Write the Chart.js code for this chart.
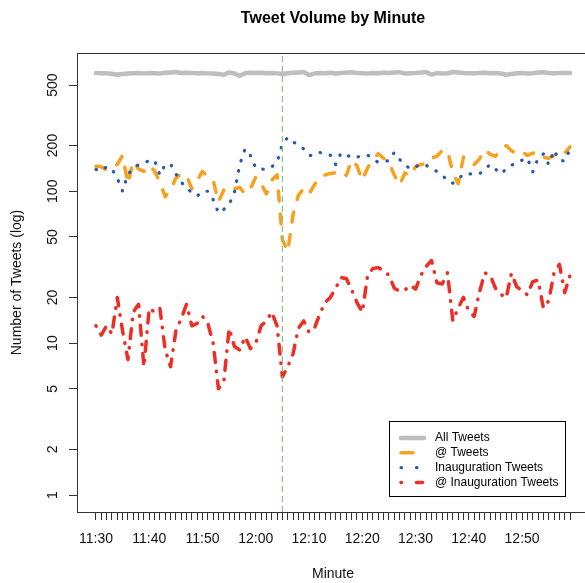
<!DOCTYPE html>
<html>
<head>
<meta charset="utf-8">
<script src="https://cdn.jsdelivr.net/npm/chart.js@4"></script>
<style>
html, body { margin: 0; padding: 0; overflow: hidden; background: #fff; }
</style>
</head>
<body>
<canvas id="myChart" width="592" height="583"></canvas>
<script>
// minutes run from 11:30 (index 0) to 12:59 (index 89)
var tickLabels = ["11:30", "11:40", "11:50", "12:00", "12:10", "12:20", "12:30", "12:40", "12:50"];
var yTicks = [1, 2, 5, 10, 20, 50, 100, 200, 500];
var inaugMinute = 35;
var seriesNames = ["All Tweets", "@ Tweets", "Inauguration Tweets", "@ Inauguration Tweets"];

var allTweets = [600, 598, 597, 594, 585, 592, 596, 598, 600, 597,
  600, 598, 596, 602, 606, 610, 600, 602, 600, 598,
  600, 597, 595, 592, 585, 606, 596, 575, 598, 603,
  600, 602, 598, 600, 597, 592, 598, 602, 606, 610,
  582, 595, 600, 598, 602, 596, 600, 605, 608, 600,
  598, 596, 600, 598, 602, 600, 605, 608, 595, 598,
  600, 604, 610, 586, 600, 596, 598, 610, 605, 600,
  598, 597, 600, 602, 598, 600, 596, 585, 592, 598,
  600, 596, 598, 604, 608, 600, 598, 600, 601, 600];

var atTweets = [146, 145, 138, 145, 150, 172, 112, 158, 140, 135,
  148, 136, 115, 92, 102, 122, 130, 127, 104, 118,
  135, 125, 118, 85, 102, 108, 104, 106, 96, 104,
  124, 112, 96, 118, 128, 48, 40, 70, 94, 104,
  96, 110, 124, 128, 131, 132, 136, 127, 160, 147,
  118, 143, 160, 177, 165, 155, 128, 110, 132, 126,
  145, 150, 152, 165, 170, 185, 185, 132, 112, 168,
  160, 150, 163, 188, 175, 170, 187, 200, 185, 176,
  182, 172, 178, 180, 167, 165, 172, 180, 178, 196];

var inaugTweets = [139, 136, 145, 140, 122, 100, 130, 140, 150, 155,
  158, 160, 128, 150, 151, 130, 115, 105, 98, 93,
  100, 100, 88, 72, 76, 82, 98, 150, 190, 172,
  142, 140, 139, 145, 155, 205, 226, 212, 200, 190,
  172, 172, 180, 176, 173, 150, 178, 175, 165, 168,
  170, 173, 162, 155, 157, 159, 180, 162, 150, 140,
  145, 150, 148, 141, 135, 128, 117, 113, 120, 130,
  130, 130, 130, 140, 150, 140, 130, 140, 148, 156,
  160, 165, 134, 165, 176, 150, 186, 160, 158, 190];

var atInaugTweets = [13, 11.3, 13, 11.5, 20, 12, 7.8, 16, 18, 7,
  17, 16, 17, 9, 7, 12, 14.5, 18, 13, 13.5,
  15, 13.5, 10, 5, 5.6, 12.5, 9.5, 9, 11, 9.2,
  10, 13, 14, 16, 13, 6, 7, 8.5, 12.5, 14,
  11.8, 12.5, 15.5, 18.5, 20, 23, 27, 26.6, 22.5, 18.5,
  16, 28, 31, 31.4, 30, 28, 23, 22, 22.4, 24,
  22.7, 28, 32, 35, 25, 24.5, 29, 14, 17, 20,
  16.2, 15, 21.7, 29, 28, 23, 21, 19.8, 28.8, 23.5,
  22, 20.8, 25.4, 26, 17, 19, 29, 33, 21.5, 28];

var colors = ["#bebebe", "#f7a11e", "#2b58a8", "#ee2e24"];
var widths = [4.5, 3.5, 3.2, 3.5];
var dashes = [[], [10, 13], [0.5, 10], [0.5, 9, 10, 9]];
var legendDashes = [[], [12, 100], [0.5, 15], [0.5, 15, 6, 100]];

function toPoints(arr) {
  return arr.map(function (v, i) { return { x: i, y: v }; });
}

var fontFam = '"Liberation Sans", Arial, Helvetica, sans-serif';
var yMin = 0.773, yMax = 813;

var framePlugin = {
  id: "frame",
  afterDraw: function (chart) {
    var ctx = chart.ctx, a = chart.chartArea;
    ctx.save();
    // top of the box
    ctx.strokeStyle = "#333";
    ctx.lineWidth = 1;
    ctx.beginPath();
    ctx.moveTo(a.left, a.top + 0.5);
    ctx.lineTo(a.right, a.top + 0.5);
    ctx.stroke();
    // title
    ctx.fillStyle = "#000";
    ctx.font = "bold 16px " + fontFam;
    ctx.textAlign = "center";
    ctx.textBaseline = "middle";
    ctx.fillText("Tweet Volume by Minute", (a.left + a.right) / 2, 19);
    // legend
    var bx = 389.5, by = 421.5, bw = 176, bh = 75;
    ctx.fillStyle = "#fff";
    ctx.fillRect(bx, by, bw, bh);
    ctx.strokeStyle = "#000";
    ctx.lineWidth = 1;
    ctx.strokeRect(bx, by, bw, bh);
    ctx.font = "12px " + fontFam;
    ctx.textAlign = "left";
    for (var k = 0; k < seriesNames.length; k++) {
      var ry = 438 + k * 14.8;
      ctx.save();
      ctx.beginPath();
      ctx.rect(bx + 2, by + 2, 40, bh - 4);
      ctx.clip();
      ctx.strokeStyle = colors[k];
      ctx.lineWidth = widths[k];
      ctx.lineCap = "round";
      ctx.setLineDash(legendDashes[k]);
      ctx.beginPath();
      ctx.moveTo(401, ry);
      ctx.lineTo(424, ry);
      ctx.stroke();
      ctx.restore();
      ctx.fillStyle = "#000";
      ctx.fillText(seriesNames[k], 435, ry);
    }
    ctx.restore();
  }
};

var allData = [allTweets, atTweets, inaugTweets, atInaugTweets];
var datasets = allData.map(function (arr, k) {
  return {
    label: seriesNames[k],
    data: toPoints(arr),
    borderColor: colors[k],
    borderWidth: widths[k],
    borderDash: dashes[k],
    borderCapStyle: "round",
    borderJoinStyle: "round",
    pointRadius: 0,
    tension: 0,
    fill: false,
    order: 5 - k
  };
});
datasets.push({
  label: "Inauguration",
  data: [{ x: inaugMinute, y: yMin }, { x: inaugMinute, y: yMax }],
  borderColor: "#86c286",
  borderWidth: 1.2,
  borderDash: [6, 4],
  pointRadius: 0,
  fill: false,
  order: 0
});

new Chart("myChart", {
  type: "line",
  data: { datasets: datasets },
  plugins: [framePlugin],
  options: {
    responsive: false,
    animation: false,
    events: [],
    layout: { padding: { top: 53, right: 3, bottom: 0, left: 0 } },
    plugins: {
      legend: { display: false },
      title: { display: false },
      tooltip: { enabled: false }
    },
    scales: {
      x: {
        type: "linear",
        min: -3.56,
        max: 92.56,
        afterBuildTicks: function (scale) {
          var t = [];
          for (var i = 0; i < 90; i++) t.push({ value: i });
          scale.ticks = t;
        },
        afterFit: function (scale) { scale.height = 71; },
        grid: { drawOnChartArea: false, drawTicks: true, tickLength: 8, color: "#333", lineWidth: 1 },
        border: { display: true, color: "#333", width: 1 },
        ticks: {
          autoSkip: false,
          maxRotation: 0,
          minRotation: 0,
          padding: 11,
          color: "#111",
          font: { family: fontFam, size: 14 },
          callback: function (v) { return v % 10 === 0 ? tickLabels[v / 10] : ""; }
        },
        title: {
          display: true,
          text: "Minute",
          color: "#111",
          font: { family: fontFam, size: 14 },
          padding: { top: 0, bottom: 0 }
        }
      },
      y: {
        type: "logarithmic",
        min: yMin,
        max: yMax,
        afterBuildTicks: function (scale) {
          scale.ticks = yTicks.map(function (v) { return { value: v }; });
        },
        afterFit: function (scale) { scale.width = 77; },
        grid: { drawOnChartArea: false, drawTicks: true, tickLength: 8, color: "#333", lineWidth: 1 },
        border: { display: true, color: "#333", width: 1 },
        ticks: {
          autoSkip: false,
          minRotation: 90,
          maxRotation: 90,
          crossAlign: "center",
          padding: 4,
          color: "#111",
          font: { family: fontFam, size: 14 },
          callback: function (v) { return String(v); }
        },
        title: {
          display: true,
          text: "Number of Tweets (log)",
          color: "#111",
          font: { family: fontFam, size: 14 },
          padding: { top: 9, bottom: 0 }
        }
      }
    }
  }
});
</script>
</body>
</html>
